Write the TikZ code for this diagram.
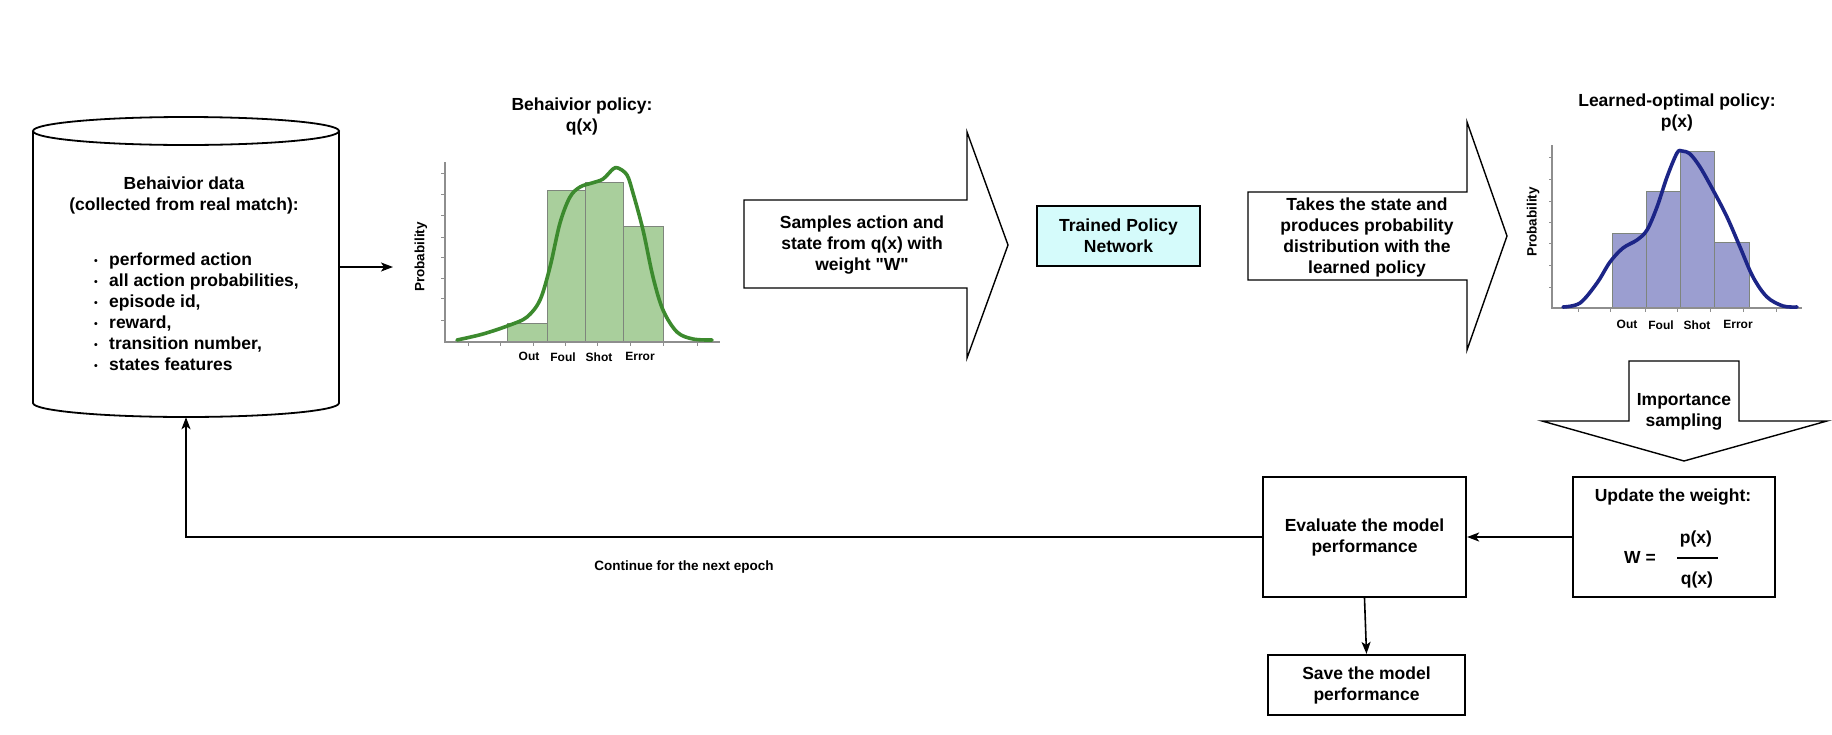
\documentclass[tikz,border=0pt]{standalone}
\usepackage{fontspec}
\setmainfont{Liberation Sans}
\newfontfamily\qfont{Liberation Sans}[Ligatures=TeXOff]
\usetikzlibrary{arrows.meta}
\definecolor{gcurve}{HTML}{3C8A2E}
\definecolor{gbar}{HTML}{A9CF9C}
\definecolor{bcurve}{HTML}{1C2587}
\definecolor{bbar}{HTML}{9B9ED0}
\definecolor{cyanfill}{HTML}{D5FBFB}
\definecolor{axisgray}{HTML}{8E8E8E}
\definecolor{barline}{HTML}{7E857C}
\newcommand{\blt}{\makebox[15pt][l]{\raisebox{1.5pt}{\scalebox{0.6}{\textbullet}}}}
\begin{document}
\begin{tikzpicture}[x=1pt,y=-1pt,
  txt/.style={font=\bfseries\fontsize{17.5}{21}\selectfont, align=center, inner sep=0pt},
  small/.style={font=\bfseries\fontsize{12}{14}\selectfont, inner sep=0pt},
  axlab/.style={font=\bfseries\fontsize{13.5}{16}\selectfont, inner sep=0pt, rotate=90},
  eplab/.style={font=\bfseries\fontsize{13.5}{16}\selectfont, inner sep=0pt},
  box/.style={draw, line width=2.2pt, inner sep=0pt, align=center, font=\bfseries\fontsize{17.5}{21}\selectfont},
  conn/.style={line width=1.6pt, -{Stealth[length=12pt,width=9pt,inset=3pt]}},
  bigarrow/.style={draw, line width=1.4pt, fill=white, line join=miter},
  axisline/.style={draw=axisgray, line width=1.5pt},
  tickmark/.style={draw=axisgray, line width=1pt},
  gbarst/.style={fill=gbar, draw=barline, line width=0.9pt},
  bbarst/.style={fill=bbar, draw=barline, line width=0.9pt},
  cylline/.style={line width=1.8pt}
]
\useasboundingbox (0,0) rectangle (1832,734);
\fill[white] (0,0) rectangle (1832,734);

% ---------- cylinder (behavior data) ----------
\node[inner sep=0pt, minimum width=306pt, minimum height=300pt] (data) at (186,267) {};
\draw[cylline, fill=white] (33,131) -- (33,403)
  .. controls (33,410.7) and (101.5,417) .. (186,417)
  .. controls (270.5,417) and (339,410.7) .. (339,403) -- (339,131);
\draw[cylline, fill=white] (186,131) ellipse [x radius=153pt, y radius=14pt];
\node[txt] (datatitle) at (184,195) {Behaivior data\\(collected from real match):};
\node[txt, align=left, anchor=west] (datalist) at (94,312)
  {\blt performed action\\ \blt all action probabilities,\\ \blt episode id,\\ \blt reward,\\ \blt transition number,\\ \blt states features};

% ---------- chart 1: behavior policy ----------
\node[txt] (t1) at (582,116) {Behaivior policy:\\q(x)};
\coordinate (c1in) at (393,267);
\draw[conn] (data.east) -- (c1in);
\draw[gbarst] (507,342) rectangle (547,323);
\draw[gbarst] (547,342) rectangle (585,190);
\draw[gbarst] (585,342) rectangle (623,182);
\draw[gbarst] (623,342) rectangle (663,226);
\draw[axisline] (445,162) -- (445,342) -- (720,342);
\foreach \yy in {173,194,215,237,257,278,298,320} \draw[tickmark] (441,\yy) -- (445,\yy);
\foreach \xx in {468,500,533,565,597,630,663,697} \draw[tickmark] (\xx,342) -- (\xx,346);
\draw[gcurve, line width=3.6pt, line cap=round, line join=round] plot[smooth, tension=0.55] coordinates {
 (457,340) (483,334) (510,325) (527,317) (540,300) (550,267) (560,223) (570,197) (580,187)
 (592,183) (603,179) (613,169) (618,168) (627,175) (633,193) (643,230) (653,277) (663,310)
 (677,332) (693,339) (712,340)};
\node[axlab] (p1) at (421,257) {Probability};
\node[small] (o1) at (529,356) {Out};
\node[small] (f1) at (563,357) {Foul};
\node[small] (s1) at (599,357) {Shot};
\node[small] (e1) at (640,356) {Error};

% ---------- big arrow 1 ----------
\draw[bigarrow] (744,200) -- (967,200) -- (967,132) -- (1008,245) -- (967,358) -- (967,288) -- (744,288) -- cycle;
\node[txt] (a1) at (862,245) {Samples action and\\state from q(x) with\\{\qfont\bfseries weight "W"}};

% ---------- trained policy network ----------
\node[box, fill=cyanfill, minimum width=163pt, minimum height=60pt] (net) at (1118.5,236) {Trained Policy\\Network};

% ---------- big arrow 2 ----------
\draw[bigarrow] (1248,192) -- (1467,192) -- (1467,122) -- (1507,236) -- (1467,350) -- (1467,280) -- (1248,280) -- cycle;
\node[txt] (a2) at (1367,237) {Takes the state and\\produces probability\\distribution with the\\learned policy};

% ---------- chart 2: learned-optimal policy ----------
\node[txt] (t2) at (1677,112) {Learned-optimal policy:\\p(x)};
\draw[bbarst] (1612,308) rectangle (1646,233);
\draw[bbarst] (1646,308) rectangle (1680,191);
\draw[bbarst] (1680,308) rectangle (1714,151);
\draw[bbarst] (1714,308) rectangle (1749,242);
\draw[axisline] (1552,145) -- (1552,308) -- (1802,308);
\foreach \yy in {157,179,201,222,243,265,287} \draw[tickmark] (1549,\yy) -- (1552,\yy);
\foreach \xx in {1578,1610,1645,1677,1710,1743,1776} \draw[tickmark] (\xx,308) -- (\xx,312);
\draw[bcurve, line width=3.6pt, line cap=round, line join=round] plot[smooth, tension=0.55] coordinates {
 (1563,307) (1580,303) (1597,283) (1610,262) (1623,248) (1637,240) (1647,230) (1657,207)
 (1667,177) (1677,153) (1682,151) (1690,154) (1700,167) (1713,190) (1727,217) (1740,247)
 (1753,277) (1767,297) (1783,306) (1797,307)};
\node[axlab] (p2) at (1533,222) {Probability};
\node[small] (o2) at (1627,324) {Out};
\node[small] (f2) at (1661,325) {Foul};
\node[small] (s2) at (1697,325) {Shot};
\node[small] (e2) at (1738,324) {Error};

% ---------- importance sampling arrow ----------
\draw[bigarrow] (1629,361) -- (1739,361) -- (1739,421) -- (1827,421) -- (1684,461) -- (1542,421) -- (1629,421) -- cycle;
\node[txt] (imp) at (1684,412) {Importance\\sampling};

% ---------- update box ----------
\node[box, minimum width=202pt, minimum height=120pt] (upd) at (1674,537) {};
\node[txt] (updt) at (1673,497) {Update the weight:};
\node[txt] (wlab) at (1640,557) {W =};
\node[txt] (pnum) at (1696,539) {p(x)};
\node[txt] (qden) at (1697,580) {q(x)};
\draw[line width=1.8pt] (1677,558) -- (1718,558);

% ---------- evaluate & save ----------
\node[box, minimum width=203pt, minimum height=120pt] (eval) at (1364.5,537) {Evaluate the model\\performance};
\node[box, minimum width=197pt, minimum height=60pt] (save) at (1366.5,685) {Save the model\\performance};
\draw[conn] (upd.west) -- (eval.east);
\draw[conn] (eval.south) -- (save.north);
\draw[conn] (eval.west) -| (data.south);
\node[eplab] (ep) at (684,567) {Continue for the next epoch};
\end{tikzpicture}
\end{document}
